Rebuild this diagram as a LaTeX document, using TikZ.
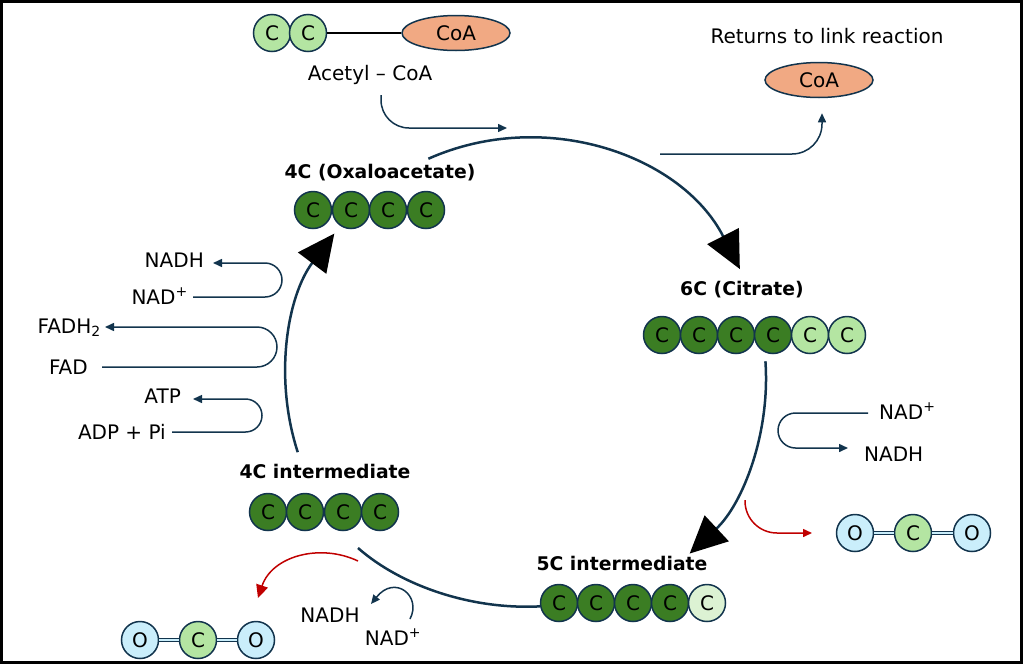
\documentclass[tikz,border=0pt]{standalone}
\usepackage{fontspec}
\setmainfont{DejaVu Sans}
\usetikzlibrary{arrows.meta,calc,shapes.geometric}
\definecolor{navy}{HTML}{12344D}
\definecolor{dkgreen}{HTML}{3B7D23}
\definecolor{lgreen}{HTML}{B4E5A2}
\definecolor{vlgreen}{HTML}{DCF2D3}
\definecolor{lblue}{HTML}{CAEEFB}
\definecolor{salmon}{HTML}{F1A983}
\definecolor{myred}{HTML}{C00000}
\begin{document}
\begin{tikzpicture}[x=1pt,y=-1pt,
  every node/.style={font=\fontsize{20}{24}\selectfont},
  atom/.style={circle,draw=navy,line width=1.5pt,minimum size=37pt,inner sep=0pt},
  dk/.style={atom,fill=dkgreen},
  lg/.style={atom,fill=lgreen},
  vl/.style={atom,fill=vlgreen},
  ox/.style={atom,fill=lblue},
  coa/.style={ellipse,draw=navy,line width=1.5pt,fill=salmon,minimum width=108pt,minimum height=35pt,inner sep=0pt},
  lbl/.style={inner sep=0pt,text height=14.5pt,text depth=0pt},
  ttl/.style={inner sep=0pt,text height=13.5pt,text depth=0pt,font=\fontsize{18.8}{22}\selectfont\bfseries},
  cyc/.style={draw=navy,line width=2.5pt},
  bigtip/.style={-{Triangle[length=37pt,width=35pt,color=black]}},
  thin/.style={draw=navy,line width=1.5pt,-{Triangle[length=9pt,width=8pt]}},
  redarr/.style={draw=myred,line width=1.5pt},
  dbond/.style={draw=navy,line width=1pt,double=lblue,double distance=2.5pt}]
\useasboundingbox (0,0) rectangle (1023,667);
\draw[line width=2.5pt] (1.5,1.5) rectangle (1021.5,662.5);

% ---------- Acetyl-CoA ----------
\node[lg] (ac1) at (272,33) {C};
\node[lg] (ac2) at (308,33) {C};
\node[coa] (coa1) at (456,33) {CoA};
\draw[line width=2pt] (ac2.east) -- (coa1.west);
\node[lbl] (acetyl) at (370,73) {Acetyl – CoA};
\coordinate (acs) at (381,95);
\coordinate (ace) at (507,128);
\draw[thin,rounded corners=28pt] (acs) |- (ace);

% ---------- CoA returns ----------
\node[lbl] (returns) at (827,36) {Returns to link reaction};
\node[coa] (coa2) at (819,80) {CoA};
\coordinate (crs) at (660,154);
\draw[thin,rounded corners=30pt] (crs) -| ([xshift=3pt,yshift=-15pt]coa2.south);

% ---------- Oxaloacetate ----------
\node[ttl] (oxlbl) at (380,172) {4C (Oxaloacetate)};
\node[dk] (o4a) at (313,210) {C};
\node[dk] (o4b) at (351,210) {C};
\node[dk] (o4c) at (388,210) {C};
\node[dk] (o4d) at (426,210) {C};

% ---------- Citrate ----------
\node[ttl] (citlbl) at (742,289) {6C (Citrate)};
\node[dk] (c6a) at (662,335) {C};
\node[dk] (c6b) at (699,335) {C};
\node[dk] (c6c) at (736,335) {C};
\node[dk] (c6d) at (773,335) {C};
\node[lg] (c6e) at (810,335) {C};
\node[lg] (c6f) at (847,335) {C};

% ---------- 5C intermediate ----------
\node[ttl] (fivelbl) at (622,564) {5C intermediate};
\node[dk] (c5a) at (559,603) {C};
\node[dk] (c5b) at (596,603) {C};
\node[dk] (c5c) at (633,603) {C};
\node[dk] (c5d) at (670,603) {C};
\node[vl] (c5e) at (707,603) {C};

% ---------- 4C intermediate ----------
\node[ttl] (fourlbl) at (325,472) {4C intermediate};
\node[dk] (c4a) at (268,512) {C};
\node[dk] (c4b) at (305,512) {C};
\node[dk] (c4c) at (343,512) {C};
\node[dk] (c4d) at (380,512) {C};

% ---------- cycle arcs ----------
\coordinate (cen) at (526,378);
\coordinate (t1s) at ($(cen)+(114:240pt)$);
\coordinate (r1s) at ($(cen)+(4:240pt)$);
\coordinate (l1s) at ($(cen)+(198:240pt)$);
\coordinate (b4) at (358,548);
\draw[cyc,bigtip] (t1s) arc[start angle=114,end angle=27,radius=240pt];
\draw[cyc,bigtip] (r1s) arc[start angle=4,end angle=-47,radius=240pt];
\draw[cyc,bigtip] (l1s) arc[start angle=198,end angle=143,radius=240pt];
\draw[cyc] (c5a.190) .. controls (470,610) and (400,585) .. (b4);

% ---------- left cofactors ----------
\node[lbl,anchor=east] (nadhL) at (204,260) {NADH};
\node[lbl,anchor=east] (nadpL) at (188,297) {NAD\textsuperscript{+}};
\node[lbl,anchor=east] (fadh) at (101,326) {FADH\textsubscript{2}};
\node[lbl,anchor=east] (fad) at (88,367) {FAD};
\node[lbl,anchor=east] (atp) at (181,396) {ATP};
\node[lbl,anchor=east] (adp) at (166,432) {ADP + Pi};
\draw[thin] ([xshift=5pt]nadpL.east) -- (265,297) arc[start angle=-90,end angle=90,radius=17pt] -- ([xshift=9pt,yshift=-3pt]nadhL.east);
\draw[thin] ([xshift=14pt]fad.east) -- (257,367) arc[start angle=-90,end angle=90,radius=20pt] -- ([xshift=4pt,yshift=-1pt]fadh.east);
\draw[thin] ([xshift=6pt]adp.east) -- (245.5,432) arc[start angle=-90,end angle=90,radius=16.5pt] -- ([xshift=12pt,yshift=-3pt]atp.east);

% ---------- right cofactors ----------
\node[lbl,anchor=west] (nadpR) at (879,412) {NAD\textsuperscript{+}};
\node[lbl,anchor=west] (nadhR) at (864,454) {NADH};
\draw[thin] ([xshift=-11pt,yshift=-1pt]nadpR.west) -- (795.5,413) arc[start angle=90,end angle=270,radius=17.5pt] -- ([xshift=-16pt,yshift=6pt]nadhR.west);

% ---------- right CO2 ----------
\node[ox] (o1R) at (855,533) {O};
\node[lg] (cR) at (913,533) {C};
\node[ox] (o2R) at (972,533) {O};
\draw[dbond] (o1R) -- (cR);
\draw[dbond] (cR) -- (o2R);
\coordinate (rrs) at (745,500);
\coordinate (rre) at (812,533);
\draw[redarr,-{Triangle[length=9pt,width=8pt]},rounded corners=32pt] (rrs) |- (rre);

% ---------- bottom-left ----------
\node[ox] (o1L) at (140,640) {O};
\node[lg] (cL) at (198,640) {C};
\node[ox] (o2L) at (256,640) {O};
\draw[dbond] (o1L) -- (cL);
\draw[dbond] (cL) -- (o2L);
\coordinate (rls) at (358,561);
\coordinate (rle) at (258,598);
\draw[redarr,-{Triangle[length=13pt,width=12pt]}] (rls) .. controls (320,543) and (272,556) .. (rle);

\node[lbl] (nadhB) at (330,615) {NADH};
\node[lbl] (nadpB) at (393,638) {NAD\textsuperscript{+}};
\coordinate (bls) at (410,619);
\coordinate (ble) at (371,604);
\draw[thin] (bls) .. controls (422,596) and (395,574) .. (ble);
\end{tikzpicture}
\end{document}
